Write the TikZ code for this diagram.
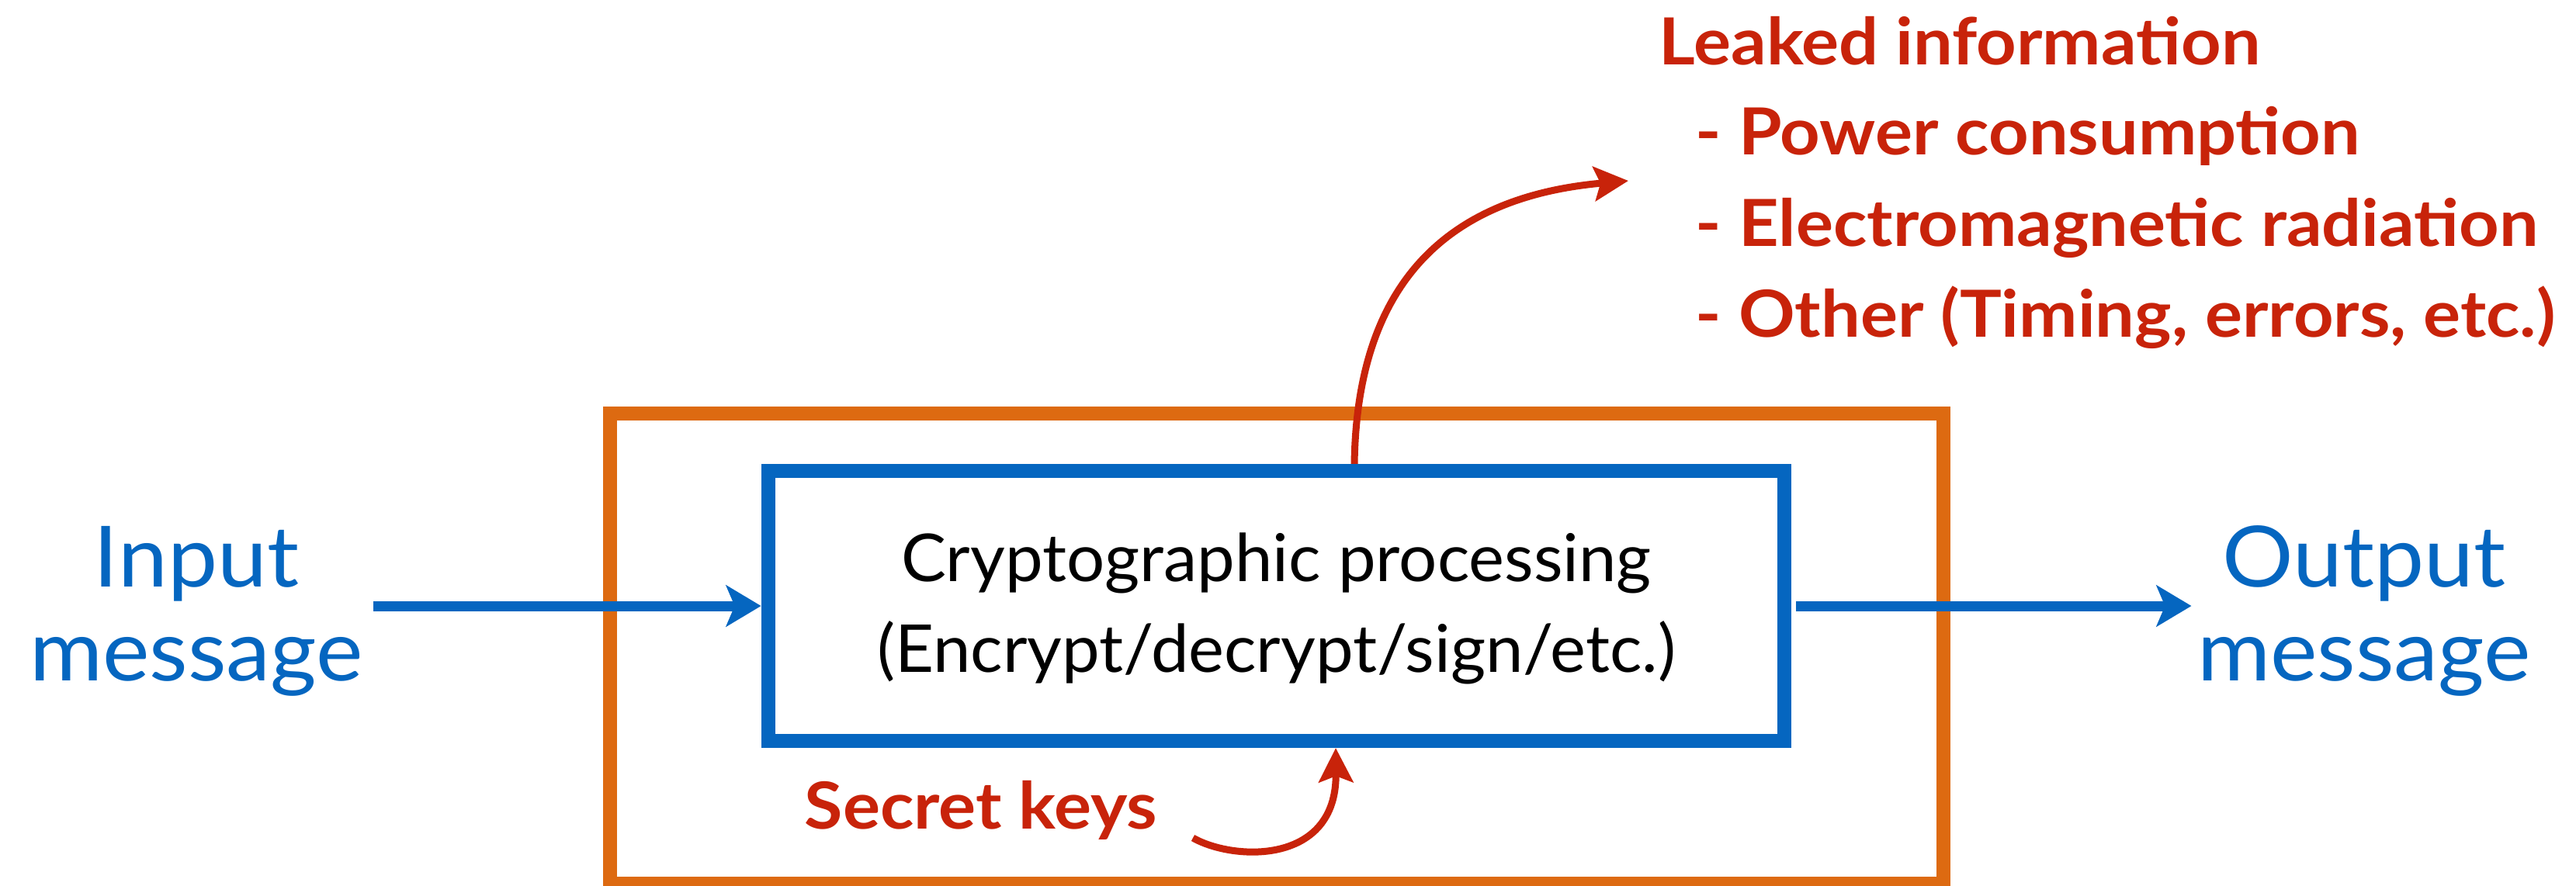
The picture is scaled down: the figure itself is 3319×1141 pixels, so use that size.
\documentclass[tikz,border=0pt]{standalone}
\usepackage{fontspec}
\setmainfont{Lato}
\newfontfamily\msgfont[FakeStretch=1.05]{Lato}
\newfontfamily\procfont[FakeStretch=1.02]{Lato}
\newfontfamily\leakfont[FakeStretch=1.075]{Lato}
\usetikzlibrary{arrows.meta,calc}
\definecolor{procblue}{RGB}{5,102,192}
\definecolor{boxorange}{RGB}{221,106,17}
\definecolor{leakred}{RGB}{200,35,10}

\begin{document}
\begin{tikzpicture}[x=0.01cm,y=-0.01cm,
  frame/.style={draw=boxorange, line width=0.18cm, inner sep=0pt,
    minimum width=17.17cm, minimum height=6.06cm},
  procbox/.style={draw=procblue, fill=white, line width=0.18cm, inner sep=0pt,
    minimum width=13.09cm, minimum height=3.48cm},
  flow/.style={draw=procblue, line width=0.13cm,
    -{Stealth[length=0.45cm, width=0.53cm, inset=0.11cm]}},
  leak/.style={draw=leakred, line width=0.09cm,
    -{Stealth[length=0.44cm, width=0.44cm, inset=0.08cm]}},
  msgtext/.style={text=procblue, font=\msgfont\fontsize{31}{34}\selectfont,
    inner sep=0pt, anchor=base},
  proctext/.style={text=black, font=\procfont\fontsize{24.2}{29}\selectfont,
    inner sep=0pt, anchor=base},
  leaktext/.style={text=leakred, font=\leakfont\bfseries\fontsize{23.8}{28}\selectfont,
    inner sep=0pt, anchor=base west}]

\useasboundingbox[fill=white] (0,0) rectangle (3319,1141);

% enclosing device boundary
\node[frame] (enclosure) at (1644.5,836) {};

% message labels
\node[msgtext] (inword)  at (253,756)  {Input};
\node[msgtext] (inmsg)   at (253,877)  {message};
\node[msgtext] (outword) at (3046,756) {Output};
\node[msgtext] (outmsg)  at (3046,877) {message};

% processing block
\node[procbox] (crypto) at (1644.5,781) {};
\node[proctext] (proc1) at (1644.5,749) {Cryptographic processing};
\node[proctext] (proc2) at (1644.5,866) {(Encrypt/decrypt/sign/etc.)};

% message flow
\draw[flow] ($(inmsg.east |- crypto.west)+(12,0)$) -- (crypto.west);
\draw[flow] ($(crypto.east)+(6,0)$) -- ($(outmsg.west |- crypto.east)+(-7,0)$);

% side-channel leakage
\node[leaktext] (leakhead) at (2137,83)  {Leaked information};
\node[leaktext] (leak1)    at (2184,199) {- Power consumption};
\node[leaktext] (leak2)    at (2184,317) {- Electromagnetic radiation};
\node[leaktext] (leak3)    at (2184,434) {- Other (Timing, errors, etc.)};
\coordinate (leakend) at (2098,233);
\draw[leak] ($(crypto.north)+(100.5,0)$) .. controls (1748,380) and (1850,255) .. (leakend);

% key input
\node[leaktext] (keys) at (1036,1068) {Secret keys};
\coordinate (keytail) at (1537,1080);
\draw[leak] (keytail) .. controls (1590,1110) and (1722,1115) .. ($(crypto.south)+(76.5,0)$);
\end{tikzpicture}
\end{document}
